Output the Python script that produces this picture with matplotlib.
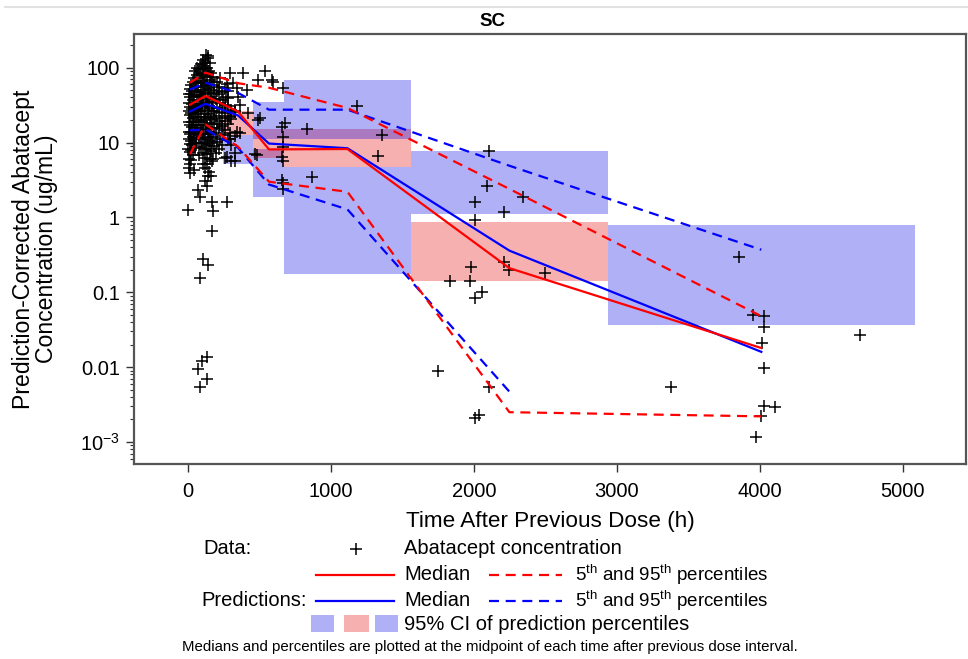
import numpy as np
import matplotlib

matplotlib.use("Agg")
import matplotlib.pyplot as plt
from matplotlib.lines import Line2D
from matplotlib.patches import Rectangle
from matplotlib.ticker import LogLocator, NullFormatter, FixedLocator

plt.rcParams["font.family"] = ["Liberation Sans", "DejaVu Sans"]
plt.rcParams["mathtext.fontset"] = "custom"
plt.rcParams["mathtext.rm"] = "Liberation Sans"
plt.rcParams["mathtext.it"] = "Liberation Sans:italic"
plt.rcParams["mathtext.bf"] = "Liberation Sans:bold"

# observed concentrations (time after previous dose in h, ug/mL)
early_obs = [
    (4, 4.6), (6, 6.0), (3, 8.2), (7, 11), (5, 14), (4, 19), (8, 26), (6, 34), (9, 45),
    (12, 3.9), (14, 5.2), (11, 7.4), (15, 9.6), (13, 13), (16, 17), (12, 23), (15, 30), (14, 40), (17, 52),
    (21, 5.8), (24, 8.0), (20, 10.5), (23, 14), (25, 19), (22, 25), (26, 33), (21, 44), (24, 58),
    (32, 6.8), (29, 9.2), (33, 12), (30, 16), (34, 21), (31, 28), (35, 37), (30, 49), (33, 64),
    (44, 4.3), (47, 8.5), (42, 11), (46, 14.5), (43, 19), (48, 25), (45, 32), (41, 42), (47, 55), (44, 72), (49, 90),
    (58, 9.8), (62, 13), (57, 17), (61, 22), (59, 28), (63, 37), (60, 48), (56, 62), (64, 80), (61, 100),
    (72, 2.3), (77, 6.8), (74, 10), (78, 12.5), (71, 15.5), (76, 20), (73, 26), (79, 33), (75, 43), (72, 56), (77, 72), (74, 95),
    (88, 8.6), (92, 11.5), (87, 14.5), (93, 19), (90, 24), (86, 31), (94, 40), (89, 51), (91, 66), (88, 85), (93, 112),
    (103, 5.1), (108, 7.2), (102, 9.8), (107, 13), (104, 17), (109, 22), (101, 29), (106, 37), (105, 48), (103, 62),
    (108, 82), (104, 104), (107, 128),
    (118, 3.1), (122, 4.6), (117, 6.2), (121, 8.3), (119, 11), (123, 15), (116, 20), (120, 26), (124, 34), (118, 44),
    (122, 57), (119, 74), (121, 96), (117, 118), (128, 150),
    (133, 2.6), (137, 3.6), (132, 5.2), (136, 7.1), (134, 9.3), (138, 12), (131, 16), (135, 21), (139, 27), (133, 35),
    (137, 46), (132, 59), (136, 77), (134, 100), (138, 135), (143, 142),
    (148, 4.1), (152, 6.1), (147, 8.1), (151, 10.5), (149, 14), (153, 18.5), (146, 24), (150, 31), (154, 41), (148, 53),
    (152, 69), (149, 89), (151, 115),
    (163, 3.6), (167, 5.6), (162, 7.6), (166, 10), (164, 13), (168, 17.5), (161, 22), (165, 29), (169, 38), (163, 50),
    (167, 65), (164, 86),
    (178, 6.1), (182, 9.1), (177, 12), (181, 15.5), (179, 20.5), (183, 26.5), (176, 35), (180, 46), (184, 59), (178, 76),
    (198, 7.2), (202, 10.2), (197, 13.5), (201, 17.5), (199, 22.5), (203, 29), (196, 38), (200, 49), (204, 64),
    (218, 8.2), (222, 11.2), (217, 15.5), (221, 19.5), (219, 25.5), (223, 34), (216, 44), (220, 56), (224, 72),
    (238, 9.2), (242, 12.8), (237, 16.5), (241, 21.5), (239, 29), (243, 37), (236, 48),
    (258, 6.2), (262, 14.5), (257, 19.5), (261, 24.5), (259, 32), (263, 41), (256, 53),
    (278, 11.2), (282, 17.5), (277, 22.5), (281, 31), (279, 39), (283, 49), (276, 61),
    (298, 5.6), (302, 9.2), (297, 13.5), (301, 20.5), (299, 27.5),
    (328, 7.2), (332, 12.2), (331, 25.5),
]

mid_obs = [
    (594, 65), (664, 54), (1182, 31), (1357, 12.8), (1329, 6.7), (832, 15), (503, 21.6), (678, 18.5),
    (664, 11.7), (664, 8.6), (483, 6.9), (664, 5.6), (867, 3.5), (664, 2.9), (664, 2.4), (329, 5.6),
    (273, 1.6), (168, 0.65), (84, 1.9), (168, 1.6), (175, 1.2), (0, 1.25), (105, 0.275), (140, 0.23),
    (84, 0.155), (133, 0.0135), (98, 0.012), (70, 0.0094), (133, 0.0069), (84, 0.0054),
    (538, 89), (490, 69), (587, 69), (343, 54), (490, 20), (329, 26), (657, 16), (343, 14), (469, 7),
    (657, 6.5), (657, 3.2), (294, 86), (385, 86), (315, 63), (413, 51), (350, 41), (364, 32), (420, 25),
    (294, 22), (364, 13.6), (294, 11), (273, 6.5),
]

late_obs = [
    (2105, 7.6), (2094, 2.6), (2343, 1.85), (2007, 1.6), (2207, 1.17), (2007, 0.91), (1979, 0.215),
    (2207, 0.25), (2245, 0.20), (2497, 0.18), (1832, 0.14), (1972, 0.14), (2056, 0.10), (2007, 0.085),
    (1752, 0.0088), (2102, 0.0054), (2032, 0.0023), (2007, 0.0021), (3376, 0.0055), (3853, 0.30),
    (3955, 0.049), (4028, 0.048), (4028, 0.034), (4017, 0.021), (4028, 0.0096), (4028, 0.0030),
    (4105, 0.0029), (4005, 0.0022), (3972, 0.00116), (4699, 0.027),
]

# bin midpoints and percentiles
mid_t = [14, 122, 350, 566, 1115, 2248, 4010]
obs_median = [32, 42, 26, 8.1, 8.2, 0.21, 0.018]
obs_p5 = [7.0, 17.5, 8.8, 3.0, 2.2, 0.0025, 0.0022]
obs_p95 = [63, 86, 62, 54, 29, 2.4, 0.048]
pred_median = [26, 33, 23, 9.7, 8.4, 0.36, 0.016]
pred_p5 = [14.5, 15, 8.5, 2.75, 1.28, 0.0047, np.nan]
pred_p95 = [51, 63, 46, 27.5, 27.5, 4.9, 0.37]

# 95% CI boxes of prediction percentiles: (t_start, t_end, low, high)
ci_p5 = [(0, 245, 10.3, 15.5), (245, 455, 5.1, 12.8), (455, 671, 1.9, 8.1), (671, 1559, 0.174, 4.65)]
ci_median = [(245, 455, 12.8, 26), (455, 671, 6.3, 15), (671, 1559, 4.65, 15),
             (1559, 2937, 0.14, 0.86)]
ci_p95 = [(455, 671, 11, 35), (671, 1559, 11, 67.5),
          (1559, 2937, 1.1, 7.6), (2937, 5084, 0.036, 0.78)]

W, H = 968, 659
BLUE_BOX = (0, 0, 0.9)
RED_BOX = (0.9, 0, 0)
BOX_ALPHA = 0.31
DASH = (4.5, 3)


def fx(px):
    return px / W


def fy(py):
    return 1 - py / H


fig = plt.figure(figsize=(W / 100, H / 100), dpi=100)
ax = fig.add_axes([fx(134), fy(464), fx(966) - fx(134), fy(34) - fy(464)])

for boxes, col in [(ci_p5, BLUE_BOX), (ci_median, RED_BOX), (ci_p95, BLUE_BOX)]:
    for t0, t1, lo, hi in boxes:
        ax.add_patch(Rectangle((t0, lo), t1 - t0, hi - lo, facecolor=col,
                               alpha=BOX_ALPHA, edgecolor="none", zorder=1))

pts = early_obs + mid_obs + late_obs
ax.plot([p[0] for p in pts], [p[1] for p in pts], "+", color="black",
        ms=9, mew=1.1, zorder=2)

ax.plot(mid_t, obs_median, "-", color="red", lw=1.6, zorder=4)
ax.plot(mid_t, obs_p5, "--", color="red", lw=1.6, dashes=DASH, zorder=4)
ax.plot(mid_t, obs_p95, "--", color="red", lw=1.6, dashes=DASH, zorder=4)
ax.plot(mid_t, pred_median, "-", color="blue", lw=1.6, zorder=3)
ax.plot(mid_t, pred_p5, "--", color="blue", lw=1.6, dashes=DASH, zorder=3)
ax.plot(mid_t, pred_p95, "--", color="blue", lw=1.6, dashes=DASH, zorder=3)

ax.set_yscale("log")
ax.set_xlim(-378, 5442)
ax.set_ylim(5.08e-4, 282)
ax.set_xticks([0, 1000, 2000, 3000, 4000, 5000])
ax.yaxis.set_major_locator(FixedLocator([1e-3, 1e-2, 1e-1, 1, 10, 100]))
ax.set_yticklabels([r"10$^{-3}$", "0.01", "0.1", "1", "10", "100"])
ax.yaxis.set_minor_locator(LogLocator(base=10, subs=np.arange(2, 10), numticks=20))
ax.yaxis.set_minor_formatter(NullFormatter())
ax.tick_params(axis="both", which="major", direction="out", length=6,
               width=1.0, color="#333333", labelsize=14.5)
ax.tick_params(axis="x", pad=7)
ax.tick_params(axis="y", pad=4)
ax.tick_params(axis="y", which="minor", direction="out", length=3, width=0.8, color="#333333")
for sp in ax.spines.values():
    sp.set_color("#555555")
    sp.set_linewidth(1.6)

ax.set_xlabel("Time After Previous Dose (h)", fontsize=16.2, labelpad=7)
ax.set_ylabel("Prediction-Corrected Abatacept\nConcentration (ug/mL)", fontsize=16.6,
              labelpad=16, linespacing=1.0)

# strip line and panel title
fig.add_artist(Line2D([fx(5), 1], [fy(7), fy(7)], color="#e2e2e2", lw=1.5))
fig.text(fx(492), fy(21), "SC", ha="center", va="center", fontsize=13.5, fontweight="bold")

# legend block
ls = 14.5
fig.text(fx(203), fy(549), "Data:", ha="left", va="center", fontsize=ls)
fig.add_artist(Line2D([fx(356)], [fy(549)], marker="+", color="black", ms=9, mew=1.1))
fig.text(fx(404), fy(549), "Abatacept concentration", ha="left", va="center", fontsize=ls)

for y, col in [(575, "red"), (601, "blue")]:
    fig.add_artist(Line2D([fx(316), fx(394)], [fy(y), fy(y)], color=col, lw=1.6))
    fig.text(fx(404), fy(y), "Median", ha="left", va="center", fontsize=ls)
    fig.add_artist(Line2D([fx(489), fx(562)], [fy(y), fy(y)], color=col, lw=1.6,
                          dashes=DASH))
    fig.text(fx(575), fy(y), r"5$^{\mathrm{th}}$ and 95$^{\mathrm{th}}$ percentiles",
             ha="left", va="center", fontsize=13.5)
fig.text(fx(307), fy(601), "Predictions:", ha="right", va="center", fontsize=ls)

for x0, x1, col in [(311, 334, BLUE_BOX), (344, 369, RED_BOX), (375, 398, BLUE_BOX)]:
    fig.add_artist(Rectangle((fx(x0), fy(632)), fx(x1) - fx(x0), fy(615) - fy(632),
                             facecolor=col, alpha=BOX_ALPHA, edgecolor="none",
                             transform=fig.transFigure))
fig.text(fx(404), fy(624), "95% CI of prediction percentiles", ha="left", va="center",
         fontsize=ls)
fig.text(fx(490), fy(647),
         "Medians and percentiles are plotted at the midpoint of each time after previous dose interval.",
         ha="center", va="center", fontsize=10.8)

fig.savefig("out.png", dpi=100)
